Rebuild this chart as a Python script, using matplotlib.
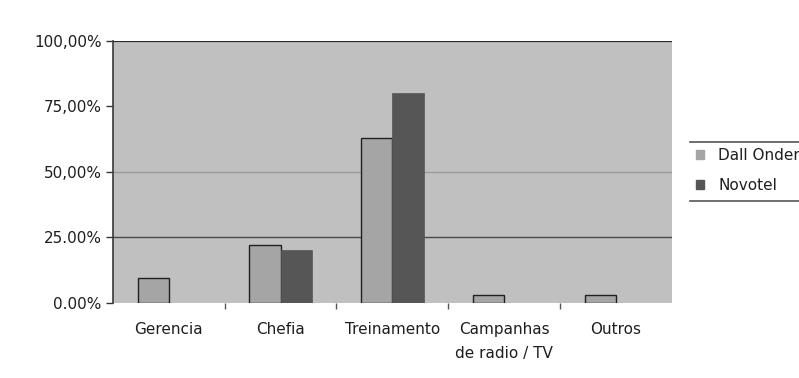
import matplotlib
matplotlib.use("Agg")
import matplotlib.pyplot as plt
from matplotlib.patches import Patch
from matplotlib.lines import Line2D
import numpy as np

# Survey data: share of responses per item
categories = ["Gerencia", "Chefia", "Treinamento", "Campanhas\nde radio / TV", "Outros"]
series_names = ["Dall Onder", "Novotel"]
dall_onder = [9.3, 22.0, 62.7, 3.0, 3.0]
novotel = [0.0, 20.0, 80.2, 0.0, 0.0]
y_ticks = [0, 25, 50, 75, 100]
y_tick_labels = ["0.00%", "25.00%", "50,00%", "75,00%", "100,00%"]

plt.rcParams["font.family"] = ["DejaVu Sans"]
TEXT = "#1e1e1e"

fig = plt.figure(figsize=(7.99, 3.78), dpi=100)
fig.patch.set_facecolor("white")
ax = fig.add_axes([0.1414, 0.1992, 0.6993, 0.6931])
ax.set_facecolor("#c0c0c0")

x = np.arange(len(categories))
w = 0.28
ax.bar(x - w / 2, dall_onder, width=w, color="#a5a5a5", edgecolor="#202020",
       linewidth=1.0, zorder=3)
ax.bar(x + w / 2, novotel, width=w, color="#565656", edgecolor="#565656",
       linewidth=0.5, zorder=3)

ax.set_xlim(-0.5, len(categories) - 0.5)
ax.set_ylim(0, 100)

# horizontal reference lines
grid_colors = {25: "#4a4a4a", 50: "#9a9a9a", 100: "#2a2a2a"}
grid_widths = {25: 1.0, 50: 1.0, 100: 1.6}
for v, c in grid_colors.items():
    ax.axhline(v, color=c, linewidth=grid_widths[v], zorder=2)

ax.set_yticks(y_ticks)
ax.set_yticklabels(y_tick_labels, fontsize=11, color=TEXT)
ax.tick_params(axis="y", direction="out", length=5, width=1, color="#333333", pad=3)

ax.set_xticks(x)
ax.set_xticklabels(categories, fontsize=11, color=TEXT, linespacing=1.7)
ax.tick_params(axis="x", which="major", length=0, pad=14)
ax.set_xticks(x[:-1] + 0.5, minor=True)
ax.tick_params(axis="x", which="minor", direction="out", length=4, width=1, color="#555555")

for side in ["top", "right", "bottom"]:
    ax.spines[side].set_visible(False)
ax.spines["left"].set_color("#3a3a3a")
ax.spines["left"].set_linewidth(1.2)

handles = [Patch(facecolor="#a5a5a5", edgecolor="#a5a5a5"),
           Patch(facecolor="#565656", edgecolor="#565656")]
leg = fig.legend(handles, series_names, loc="center left",
                 bbox_to_anchor=(696 / 799, 1 - 170.5 / 378),
                 frameon=False, fontsize=11, handlelength=0.5, handleheight=0.5,
                 handletextpad=0.95, labelspacing=1.0, borderpad=0, borderaxespad=0)
for t in leg.get_texts():
    t.set_color(TEXT)

# legend box edges (top and bottom rules)
for yy in (141.7, 201.0):
    fig.add_artist(Line2D([690 / 799, 1.0], [1 - yy / 378, 1 - yy / 378],
                          transform=fig.transFigure, color="#555555", linewidth=1.2))

fig.savefig("out.png", dpi=100)
